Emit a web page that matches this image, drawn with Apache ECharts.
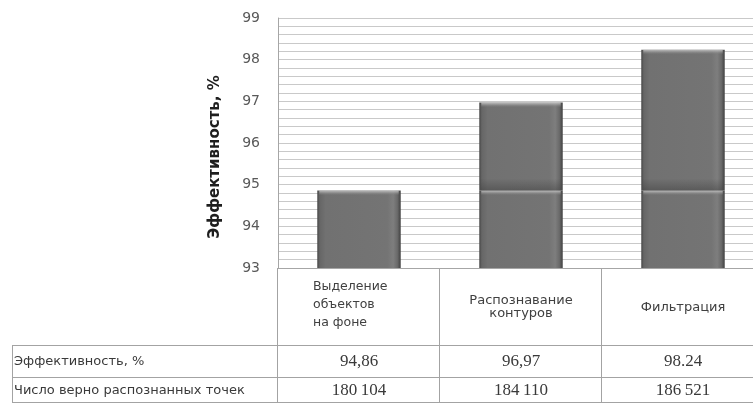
<!DOCTYPE html>
<html>
<head>
<meta charset="utf-8">
<script src="https://cdn.jsdelivr.net/npm/echarts@6/dist/echarts.min.js"></script>
<style>
  html, body { margin: 0; padding: 0; background: #fff; width: 753px; height: 403px; overflow: hidden; }
  #chart { width: 770px; height: 403px; }
</style>
</head>
<body>
<div id="chart"></div>
<script>
// Processing stages (table header row, one bar per stage)
const stages = ['Выделение\nобъектов\nна фоне', 'Распознавание\nконтуров', 'Фильтрация'];
// Efficiency of each stage, %
const efficiency = [94.86, 96.97, 98.24];
// Displayed efficiency strings in the table
const efficiencyText = ['94,86', '96,97', '98.24'];
// Number of correctly recognised points
const pointsCount = ['180\u2009104', '184\u2009110', '186\u2009521'];
// Table row titles
const rowTitles = ['Эффективность, %', 'Число верно распознанных точек'];
// Value axis ticks
const yTicks = [93, 94, 95, 96, 97, 98, 99];
const yTitle = 'Эффективность, %';

const SANS = '"DejaVu Sans", sans-serif';
const SERIF = '"Liberation Serif", "DejaVu Serif", serif';

// Plot area layout
const G = { left: 278, top: 18, width: 486, height: 250 };
const colW = G.width / stages.length;
const yMin = yTicks[0];
const baseLevel = efficiency[0];

// Segments: lower part up to the first stage level, upper part = gain above it
const segData = [];
efficiency.forEach((v, i) => {
  segData.push([i, yMin, Math.min(v, baseLevel), 0]);
  if (v > baseLevel) segData.push([i, baseLevel, v, 1]);
});

function bodyFill() {
  return new echarts.graphic.LinearGradient(0, 0, 1, 0, [
    { offset: 0, color: '#454545' },
    { offset: 0.03, color: '#666666' },
    { offset: 0.1, color: '#717171' },
    { offset: 0.84, color: '#747474' },
    { offset: 0.91, color: '#7e7e7e' },
    { offset: 0.96, color: '#6a6a6a' },
    { offset: 1, color: '#404040' }
  ]);
}

function renderSeg(params, api) {
  const idx = api.value(0);
  const lo = api.value(1);
  const hi = api.value(2);
  const upper = api.value(3) === 1;
  const pTop = api.coord([idx, hi]);
  const pBot = api.coord([idx, lo]);
  const w = api.size([1, 0])[0] * 0.515;
  const x = pTop[0] - w / 2;
  const y = pTop[1];
  const h = pBot[1] - pTop[1];
  const children = [
    { type: 'rect', shape: { x: x, y: y, width: w, height: h }, style: { fill: bodyFill() } },
    // top bevel highlight
    {
      type: 'rect', shape: { x: x + 2, y: y, width: w - 4, height: 5 },
      style: {
        fill: new echarts.graphic.LinearGradient(0, 0, 0, 1, [
          { offset: 0, color: 'rgba(200,200,200,0.9)' },
          { offset: 0.4, color: 'rgba(170,170,170,0.6)' },
          { offset: 1, color: 'rgba(120,120,120,0)' }
        ])
      }
    }
  ];
  if (upper) {
    // shadow at the joint with the lower segment
    children.push({
      type: 'rect', shape: { x: x + 1, y: y + h - 12, width: w - 2, height: 12 },
      style: {
        fill: new echarts.graphic.LinearGradient(0, 0, 0, 1, [
          { offset: 0, color: 'rgba(60,60,60,0)' },
          { offset: 1, color: 'rgba(60,60,60,0.45)' }
        ])
      }
    });
  }
  return { type: 'group', children: children };
}

// Table drawn under the plot
const tableLine = { stroke: '#a3a3a3', lineWidth: 1 };
const rowY = [345, 377, 403];
const tableLeft = 12;
const tableRight = G.left + G.width;
const graphics = [];
function hLine(x1, x2, y) {
  graphics.push({ type: 'line', shape: { x1: x1, y1: y + 0.5, x2: x2, y2: y + 0.5 }, style: tableLine, silent: true });
}
function vLine(x, y1, y2) {
  graphics.push({ type: 'line', shape: { x1: x + 0.5, y1: y1, x2: x + 0.5, y2: y2 }, style: tableLine, silent: true });
}
hLine(tableLeft, tableRight, rowY[0]);
hLine(tableLeft, tableRight, rowY[1]);
hLine(tableLeft, tableRight, rowY[2] - 1);
vLine(tableLeft, rowY[0], rowY[2]);
vLine(G.left - 1, G.top + G.height, rowY[2]);
for (let i = 1; i <= stages.length; i++) {
  vLine(Math.round(G.left + colW * i) - 1, G.top + G.height, rowY[2]);
}
// Header row: stage names
stages.forEach((s, i) => {
  const cx = G.left + colW * (i + 0.5);
  const first = i === 0;
  graphics.push({
    type: 'text', silent: true,
    x: first ? G.left + 35 : cx,
    y: (G.top + G.height + rowY[0]) / 2 + (first ? -2 : 1),
    style: {
      text: s, font: (first ? '12.5px ' : '13px ') + SANS, fill: '#404040',
      align: first ? 'left' : 'center', verticalAlign: 'middle', lineHeight: first ? 18 : 13
    }
  });
});
// Row titles
rowTitles.forEach((t, r) => {
  graphics.push({
    type: 'text', silent: true, x: tableLeft + 2, y: (rowY[r] + rowY[r + 1]) / 2 + 1,
    style: { text: t, font: '13px ' + SANS, fill: '#3a3a3a', align: 'left', verticalAlign: 'middle' }
  });
});
// Row values
[efficiencyText, pointsCount].forEach((vals, r) => {
  vals.forEach((t, i) => {
    graphics.push({
      type: 'text', silent: true, x: G.left + colW * (i + 0.5), y: (rowY[r] + rowY[r + 1]) / 2 + 1,
      style: { text: t, font: '17px ' + SERIF, fill: '#3a3a3a', align: 'center', verticalAlign: 'middle' }
    });
  });
});
// Value axis title
graphics.push({
  type: 'text', silent: true, x: 215, y: 157, rotation: Math.PI / 2,
  style: { text: yTitle, font: 'bold 15px ' + SANS, fill: '#1e1e1e', align: 'center', verticalAlign: 'middle' }
});

const chart = echarts.init(document.getElementById('chart'), null, { renderer: 'canvas' });
chart.setOption({
  animation: false,
  backgroundColor: '#ffffff',
  grid: { left: G.left, top: G.top, width: G.width, height: G.height, containLabel: false, outerBoundsMode: 'none' },
  xAxis: {
    type: 'category',
    data: stages,
    axisLine: { show: true, lineStyle: { color: '#a6a6a6', width: 1 } },
    axisTick: { show: false },
    axisLabel: { show: false },
    splitLine: { show: false }
  },
  yAxis: {
    type: 'value',
    min: yTicks[0],
    max: yTicks[yTicks.length - 1],
    interval: 1,
    axisLine: { show: true, lineStyle: { color: '#a6a6a6', width: 1 } },
    axisTick: { show: false },
    axisLabel: { margin: 18, fontFamily: SANS, fontSize: 14, color: '#595959' },
    splitLine: { show: true, lineStyle: { color: '#c9c9c9', width: 1 } },
    minorTick: { show: false, splitNumber: 5 },
    minorSplitLine: { show: true, lineStyle: { color: '#c9c9c9', width: 1 } }
  },
  series: [{
    type: 'custom',
    renderItem: renderSeg,
    encode: { x: 0, y: [1, 2] },
    data: segData,
    clip: true
  }],
  graphic: graphics
});
</script>
</body>
</html>
